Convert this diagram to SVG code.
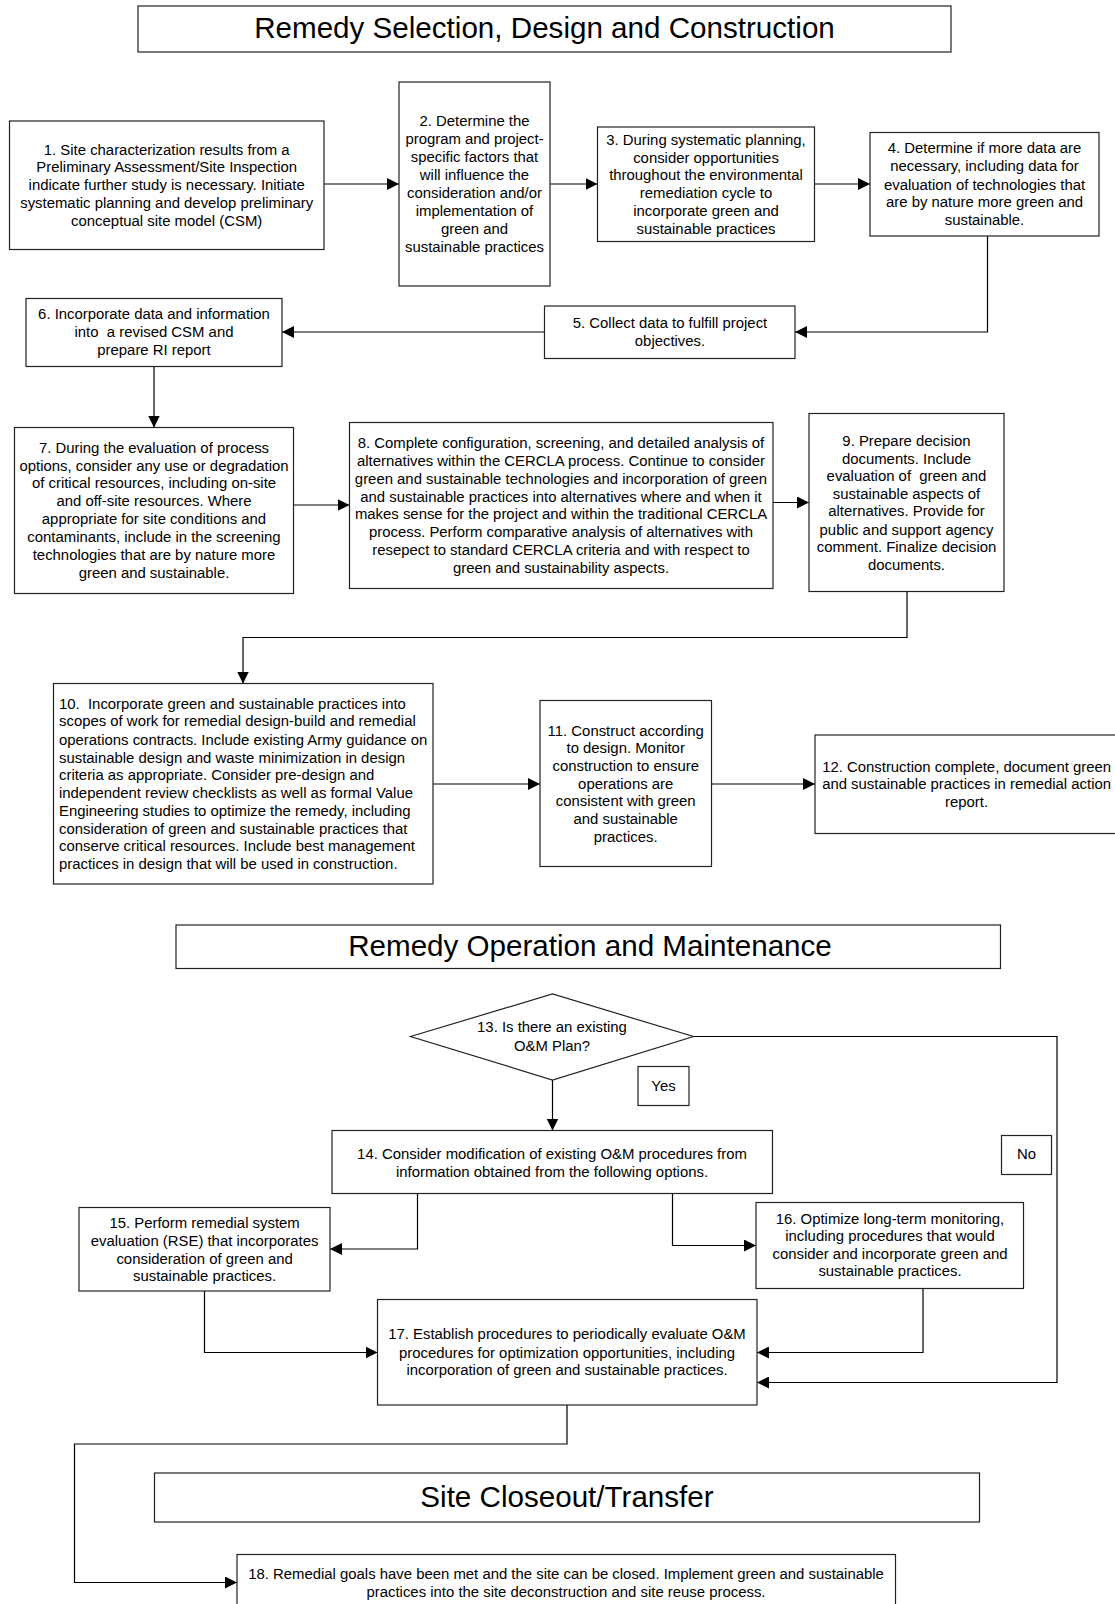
<svg xmlns="http://www.w3.org/2000/svg" width="1115" height="1604" viewBox="0 0 1115 1604">
<style>
.bx{fill:#fff;stroke:#222;stroke-width:1.2}
.t{font-family:"Liberation Sans",Arial,sans-serif;font-size:14.9px;fill:#000;text-anchor:middle}
.tl{text-anchor:start}
.h{font-family:"Liberation Sans",Arial,sans-serif;font-size:29.6px;fill:#000;text-anchor:middle}
.c{fill:none;stroke:#000;stroke-width:1.2}
</style>
<defs>
<marker id="ah" markerUnits="userSpaceOnUse" markerWidth="12" markerHeight="12" refX="12" refY="6" orient="auto">
<path d="M0,0 L12,6 L0,12 z" fill="#000"/>
</marker>
</defs>
<rect width="1115" height="1604" fill="#fff"/>

<g id="title1"><rect class="bx" x="138" y="6" width="813" height="46"/><text class="h" x="544.5" y="38">Remedy Selection, Design and Construction</text></g>

<g id="connectors">
<path class="c" d="M324,184 H399" marker-end="url(#ah)"/>
<path class="c" d="M550,184 H597.5" marker-end="url(#ah)"/>
<path class="c" d="M814.5,184 H870" marker-end="url(#ah)"/>
<path class="c" d="M987.5,236 V332 H795" marker-end="url(#ah)"/>
<path class="c" d="M544.5,332 H282" marker-end="url(#ah)"/>
<path class="c" d="M154,366.5 V427.5" marker-end="url(#ah)"/>
<path class="c" d="M293.5,505 H349.5" marker-end="url(#ah)"/>
<path class="c" d="M773,502.5 H809" marker-end="url(#ah)"/>
<path class="c" d="M907,591.5 V637.5 H243 V683.5" marker-end="url(#ah)"/>
<path class="c" d="M433,784 H540" marker-end="url(#ah)"/>
<path class="c" d="M711.5,784 H815" marker-end="url(#ah)"/>
<path class="c" d="M552.5,1080 V1130.5" marker-end="url(#ah)"/>
<path class="c" d="M693.5,1036.5 H1057 V1382.5 H757" marker-end="url(#ah)"/>
<path class="c" d="M417.5,1193.5 V1249 H330" marker-end="url(#ah)"/>
<path class="c" d="M672.5,1193.5 V1245.5 H756" marker-end="url(#ah)"/>
<path class="c" d="M204.5,1291 V1352.5 H377.5" marker-end="url(#ah)"/>
<path class="c" d="M923,1288.5 V1352.5 H757" marker-end="url(#ah)"/>
<path class="c" d="M567,1405 V1444 H74.5 V1582.5 H237" marker-end="url(#ah)"/>
</g>

<g id="n1"><rect class="bx" x="9.5" y="121" width="314.5" height="128.5"/>
<text class="t" x="166.7"><tspan x="166.7" y="154.5">1. Site characterization results from a</tspan><tspan x="166.7" y="172.2">Preliminary Assessment/Site Inspection</tspan><tspan x="166.7" y="190">indicate further study is necessary. Initiate</tspan><tspan x="166.7" y="207.8">systematic planning and develop preliminary</tspan><tspan x="166.7" y="225.6">conceptual site model (CSM)</tspan></text></g>

<g id="n2"><rect class="bx" x="399" y="82" width="151" height="204"/>
<text class="t"><tspan x="474.5" y="126">2. Determine the</tspan><tspan x="474.5" y="144">program and project-</tspan><tspan x="474.5" y="162">specific factors that</tspan><tspan x="474.5" y="180">will influence the</tspan><tspan x="474.5" y="198">consideration and/or</tspan><tspan x="474.5" y="216">implementation of</tspan><tspan x="474.5" y="234">green and</tspan><tspan x="474.5" y="252">sustainable practices</tspan></text></g>

<g id="n3"><rect class="bx" x="597.5" y="127" width="217" height="114.5"/>
<text class="t"><tspan x="706" y="144.5">3. During systematic planning,</tspan><tspan x="706" y="162.5">consider opportunities</tspan><tspan x="706" y="180.3">throughout the environmental</tspan><tspan x="706" y="198.3">remediation cycle to</tspan><tspan x="706" y="216">incorporate green and</tspan><tspan x="706" y="234">sustainable practices</tspan></text></g>

<g id="n4"><rect class="bx" x="870" y="132.5" width="229" height="103.5"/>
<text class="t"><tspan x="984.5" y="153">4. Determine if more data are</tspan><tspan x="984.5" y="171.2">necessary, including data for</tspan><tspan x="984.5" y="189.5">evaluation of technologies that</tspan><tspan x="984.5" y="207.3">are by nature more green and</tspan><tspan x="984.5" y="225.3">sustainable.</tspan></text></g>

<g id="n5"><rect class="bx" x="544.5" y="306" width="250.5" height="52.5"/>
<text class="t"><tspan x="670" y="328.3">5. Collect data to fulfill project</tspan><tspan x="670" y="346.3">objectives.</tspan></text></g>

<g id="n6"><rect class="bx" x="26" y="298.5" width="256" height="68"/>
<text class="t" style="white-space:pre"><tspan x="154" y="319.3">6. Incorporate data and information</tspan><tspan x="154" y="337.3">into  a revised CSM and</tspan><tspan x="154" y="355.3">prepare RI report</tspan></text></g>

<g id="n7"><rect class="bx" x="14.5" y="427.5" width="279" height="166"/>
<text class="t"><tspan x="154" y="453.3">7. During the evaluation of process</tspan><tspan x="154" y="470.8">options, consider any use or degradation</tspan><tspan x="154" y="488.3">of critical resources, including on-site</tspan><tspan x="154" y="506">and off-site resources. Where</tspan><tspan x="154" y="523.6">appropriate for site conditions and</tspan><tspan x="154" y="542">contaminants, include in the screening</tspan><tspan x="154" y="560">technologies that are by nature more</tspan><tspan x="154" y="577.6">green and sustainable.</tspan></text></g>

<g id="n8"><rect class="bx" x="349.5" y="422.5" width="423.5" height="166"/>
<text class="t"><tspan x="561" y="448.3">8. Complete configuration, screening, and detailed analysis of</tspan><tspan x="561" y="465.6">alternatives within the CERCLA process. Continue to consider</tspan><tspan x="561" y="483.6">green and sustainable technologies and incorporation of green</tspan><tspan x="561" y="501.6">and sustainable practices into alternatives where and when it</tspan><tspan x="561" y="519.3">makes sense for the project and within the traditional CERCLA</tspan><tspan x="561" y="537.3">process. Perform comparative analysis of alternatives with</tspan><tspan x="561" y="555.3">resepect to standard CERCLA criteria and with respect to</tspan><tspan x="561" y="572.6">green and sustainability aspects.</tspan></text></g>

<g id="n9"><rect class="bx" x="809" y="413.5" width="195" height="178"/>
<text class="t" style="white-space:pre"><tspan x="906.5" y="445.6">9. Prepare decision</tspan><tspan x="906.5" y="463.6">documents. Include</tspan><tspan x="906.5" y="481">evaluation of  green and</tspan><tspan x="906.5" y="498.6">sustainable aspects of</tspan><tspan x="906.5" y="516.3">alternatives. Provide for</tspan><tspan x="906.5" y="534.6">public and support agency</tspan><tspan x="906.5" y="552">comment. Finalize decision</tspan><tspan x="906.5" y="570">documents.</tspan></text></g>

<g id="n10"><rect class="bx" x="53.5" y="683.5" width="379.5" height="200.5"/>
<text class="t tl" style="white-space:pre"><tspan x="59" y="708.6">10.  Incorporate green and sustainable practices into</tspan><tspan x="59" y="726.3">scopes of work for remedial design-build and remedial</tspan><tspan x="59" y="744.6">operations contracts. Include existing Army guidance on</tspan><tspan x="59" y="762.6">sustainable design and waste minimization in design</tspan><tspan x="59" y="780">criteria as appropriate. Consider pre-design and</tspan><tspan x="59" y="797.6">independent review checklists as well as formal Value</tspan><tspan x="59" y="815.6">Engineering studies to optimize the remedy, including</tspan><tspan x="59" y="833.6">consideration of green and sustainable practices that</tspan><tspan x="59" y="851.3">conserve critical resources. Include best management</tspan><tspan x="59" y="869.3">practices in design that will be used in construction.</tspan></text></g>

<g id="n11"><rect class="bx" x="540" y="700.5" width="171.5" height="166"/>
<text class="t"><tspan x="625.7" y="735.6">11. Construct according</tspan><tspan x="625.7" y="752.6">to design. Monitor</tspan><tspan x="625.7" y="771">construction to ensure</tspan><tspan x="625.7" y="788.6">operations are</tspan><tspan x="625.7" y="806.3">consistent with green</tspan><tspan x="625.7" y="824.3">and sustainable</tspan><tspan x="625.7" y="842.3">practices.</tspan></text></g>

<g id="n12"><rect class="bx" x="815" y="735" width="305" height="98.5"/>
<text class="t"><tspan x="966.6" y="772">12. Construction complete, document green</tspan><tspan x="966.6" y="789.3">and sustainable practices in remedial action</tspan><tspan x="966.6" y="807">report.</tspan></text></g>

<g id="title2"><rect class="bx" x="176" y="925" width="824.5" height="43.5"/><text class="h" x="590" y="955.5">Remedy Operation and Maintenance</text></g>

<g id="n13"><path class="bx" d="M410.5,1036.5 L552.5,994 L693.5,1036.5 L552.5,1080 z"/>
<text class="t"><tspan x="552" y="1032.3">13. Is there an existing</tspan><tspan x="552" y="1050.6">O&amp;M Plan?</tspan></text></g>

<g id="lblYes"><rect class="bx" x="638" y="1066.5" width="51" height="39"/><text class="t" x="663.5" y="1091.3">Yes</text></g>
<g id="lblNo"><rect class="bx" x="1001.5" y="1135.5" width="50" height="39"/><text class="t" x="1026.5" y="1159.3">No</text></g>

<g id="n14"><rect class="bx" x="332" y="1130.5" width="440.5" height="63"/>
<text class="t"><tspan x="552" y="1159">14. Consider modification of existing O&amp;M procedures from</tspan><tspan x="552" y="1176.6">information obtained from the following options.</tspan></text></g>

<g id="n15"><rect class="bx" x="79" y="1207.5" width="251" height="83.5"/>
<text class="t"><tspan x="204.6" y="1227.6">15. Perform remedial system</tspan><tspan x="204.6" y="1245.6">evaluation (RSE) that incorporates</tspan><tspan x="204.6" y="1263.6">consideration of green and</tspan><tspan x="204.6" y="1281.3">sustainable practices.</tspan></text></g>

<g id="n16"><rect class="bx" x="756" y="1202.5" width="267.5" height="86"/>
<text class="t"><tspan x="890" y="1223.6">16. Optimize long-term monitoring,</tspan><tspan x="890" y="1241.3">including procedures that would</tspan><tspan x="890" y="1259.3">consider and incorporate green and</tspan><tspan x="890" y="1276.3">sustainable practices.</tspan></text></g>

<g id="n17"><rect class="bx" x="377.5" y="1299.5" width="379.5" height="105.5"/>
<text class="t"><tspan x="567" y="1339.3">17. Establish procedures to periodically evaluate O&amp;M</tspan><tspan x="567" y="1357.6">procedures for optimization opportunities, including</tspan><tspan x="567" y="1375.3">incorporation of green and sustainable practices.</tspan></text></g>

<g id="title3"><rect class="bx" x="154.5" y="1473" width="825" height="49"/><text class="h" x="567" y="1507">Site Closeout/Transfer</text></g>

<g id="n18"><rect class="bx" x="237" y="1554.5" width="658.5" height="55"/>
<text class="t"><tspan x="566" y="1579">18. Remedial goals have been met and the site can be closed. Implement green and sustainable</tspan><tspan x="566" y="1597">practices into the site deconstruction and site reuse process.</tspan></text></g>
</svg>
